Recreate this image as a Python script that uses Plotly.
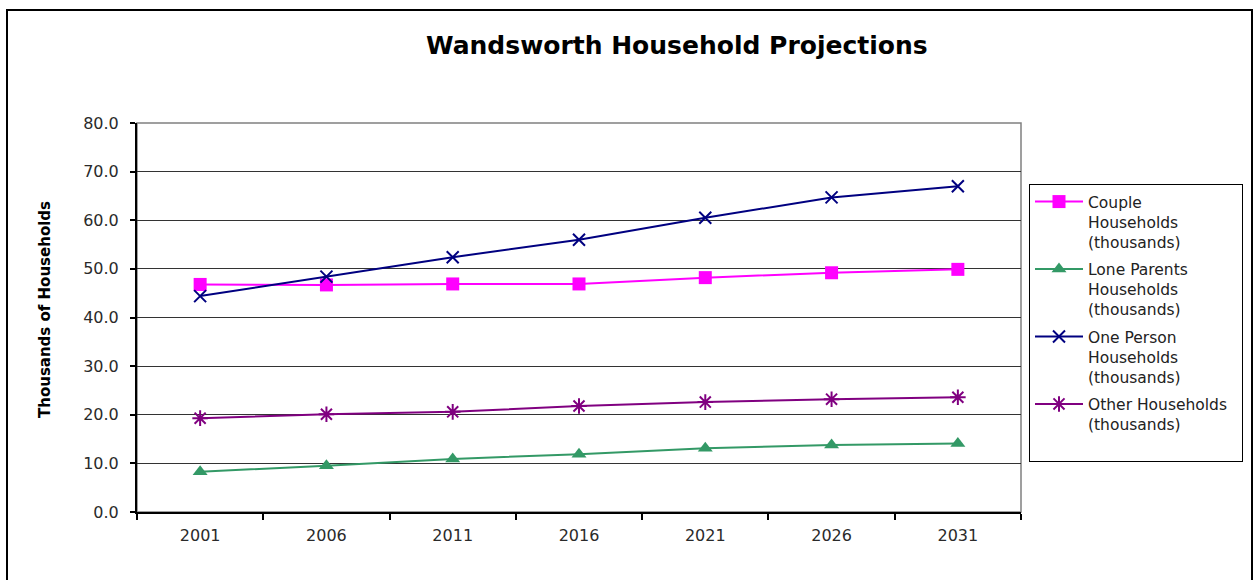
import plotly.graph_objects as go

years = ["2001", "2006", "2011", "2016", "2021", "2026", "2031"]
couple = [46.8, 46.7, 46.9, 46.9, 48.2, 49.2, 49.9]
lone_parents = [8.3, 9.5, 10.9, 11.9, 13.1, 13.8, 14.1]
one_person = [44.4, 48.4, 52.4, 56.0, 60.5, 64.7, 67.0]
other = [19.3, 20.1, 20.6, 21.8, 22.6, 23.2, 23.6]

y_ticks = [0, 10, 20, 30, 40, 50, 60, 70, 80]
y_tick_text = [f"{v:.1f}" for v in y_ticks]

FONT = "DejaVu Sans"

series = [
    ("Couple<br>Households<br>(thousands)", couple, "#FF00FF",
     dict(symbol="square", size=13, color="#FF00FF")),
    ("Lone Parents<br>Households<br>(thousands)", lone_parents, "#339966",
     dict(symbol="triangle-up", size=13, color="#339966")),
    ("One Person<br>Households<br>(thousands)", one_person, "#000080",
     dict(symbol="x-thin-open", size=12, color="#000080", line=dict(width=2, color="#000080"))),
    ("Other Households&nbsp;&nbsp;<br>(thousands)<br> ", other, "#800080",
     dict(symbol="asterisk-open", size=13, color="#800080", line=dict(width=2, color="#800080"))),
]

fig = go.Figure()
for i, (name, vals, col, mk) in enumerate(series):
    fig.add_trace(go.Scatter(
        x=years, y=vals, name=name, mode="lines+markers", legendgroup=f"g{i}",
        line=dict(color=col, width=2), marker=mk,
    ))

L, R, T, B = 137, 235, 123, 68
W, H = 1256, 580
pw, ph = W - L - R, H - T - B

def px_x(x):
    return (x - L) / pw

def px_y(y):
    return (H - B - y) / ph

shapes = [
    # outer chart frame
    dict(type="rect", xref="paper", yref="paper",
         x0=px_x(7), x1=px_x(1252), y0=px_y(600), y1=px_y(10),
         line=dict(color="black", width=2), layer="below"),
    # plot area frame
    dict(type="rect", xref="paper", yref="paper", x0=0, x1=1, y0=0, y1=1,
         line=dict(color="#808080", width=1.5), layer="below"),
]

fig.update_layout(
    width=W, height=H,
    margin=dict(l=L, r=R, t=T, b=B),
    paper_bgcolor="white", plot_bgcolor="white",
    font=dict(family=FONT, size=15, color="#222222"),
    showlegend=True,
    legend=dict(
        x=px_x(1029), y=px_y(184), xanchor="left", yanchor="top",
        bgcolor="white", bordercolor="black", borderwidth=1,
        font=dict(family=FONT, size=15.5, color="#222222"),
        valign="top", itemwidth=48, tracegroupgap=4,
    ),
    xaxis=dict(
        type="category", range=[-0.5, len(years) - 0.5],
        showgrid=False, showline=True, linecolor="black", linewidth=2,
        ticks="outside", tickson="boundaries", ticklen=6, tickcolor="black", tickwidth=1.5,
        ticklabelstandoff=8,
        tickfont=dict(family=FONT, size=16, color="#2a2a2a"),
    ),
    yaxis=dict(
        range=[0, 80], tickvals=y_ticks, ticktext=y_tick_text,
        showgrid=True, gridcolor="#333333", gridwidth=1,
        showline=True, linecolor="black", linewidth=2, zeroline=False,
        ticks="outside", ticklen=5, tickcolor="black", tickwidth=1.5,
        ticklabelstandoff=8,
        tickfont=dict(family=FONT, size=16, color="#2a2a2a"),
    ),
    shapes=shapes,
    annotations=[
        dict(text="<b>Wandsworth Household Projections</b>", xref="paper", yref="paper",
             x=px_x(677), y=px_y(46), xanchor="center", yanchor="middle", showarrow=False,
             font=dict(family=FONT, size=25, color="black")),
        dict(text="<b>Thousands of Households</b>", xref="paper", yref="paper",
             x=px_x(45), y=px_y(310), xanchor="center", yanchor="middle", showarrow=False,
             textangle=-90, font=dict(family=FONT, size=15, color="black")),
    ],
)

fig.write_html("out.html")
